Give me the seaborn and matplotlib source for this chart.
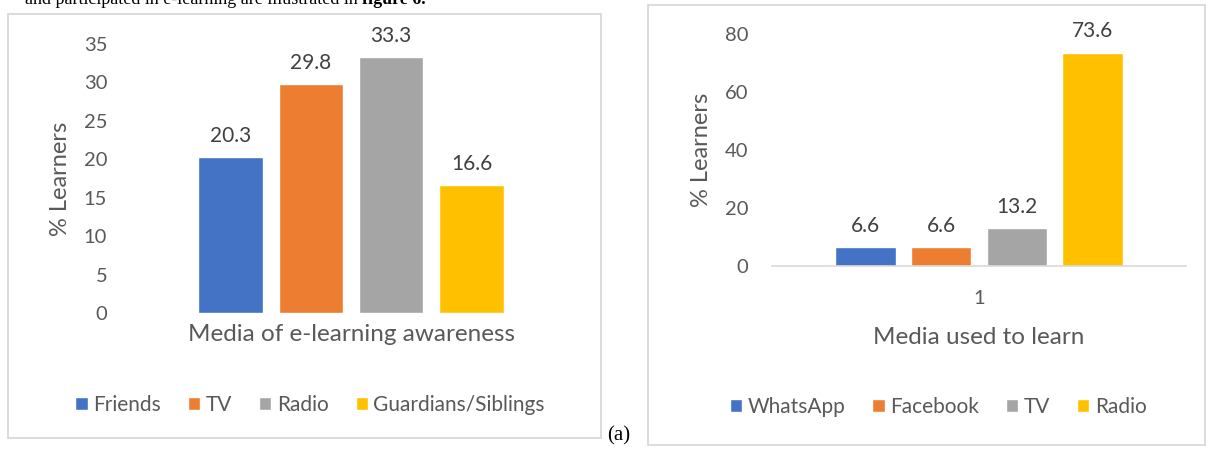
import pandas as pd
import matplotlib
matplotlib.use('Agg')
import matplotlib.pyplot as plt
from matplotlib.patches import Rectangle
import seaborn as sns

# chart data
aware_media = ['Friends', 'TV', 'Radio', 'Guardians/Siblings']
aware_pct = [20.3, 29.8, 33.3, 16.6]
learn_media = ['WhatsApp', 'Facebook', 'TV', 'Radio']
learn_pct = [6.6, 6.6, 13.2, 73.6]
colors = ['#4472C4', '#ED7D31', '#A5A5A5', '#FFC000']
left_ticks = [0, 5, 10, 15, 20, 25, 30, 35]
right_ticks = [0, 20, 40, 60, 80]

sns.set_theme(style='white')
plt.rcParams['font.family'] = ['Lato', 'DejaVu Sans']
txt = '#595959'

W, H = 1210, 449
fig = plt.figure(figsize=(W / 100, H / 100), dpi=100)


def px_axes(x0, y0, x1, y1):
    # axes box from pixel corners (top-left origin)
    return fig.add_axes([x0 / W, 1 - y1 / H, (x1 - x0) / W, (y1 - y0) / H])


def frame(x0, y0, x1, y1):
    fig.patches.append(Rectangle((x0 / W, 1 - y1 / H), (x1 - x0) / W, (y1 - y0) / H,
                                 transform=fig.transFigure, fill=False,
                                 edgecolor='#d9d9d9', linewidth=1.3))


legend_kw = dict(ncol=4, frameon=False, title=None, fontsize=15, handlelength=0.6,
                 handleheight=0.6, handletextpad=0.25, columnspacing=1.3,
                 labelcolor=txt, bbox_transform=fig.transFigure)

# left chart
frame(8, 14, 601, 438)
ax1 = px_axes(110, 44, 592, 313)
df1 = pd.DataFrame({'grp': [''] * 4, 'media': aware_media, 'pct': aware_pct})
sns.barplot(data=df1, x='grp', y='pct', hue='media', palette=colors,
            width=0.8, gap=0.2, saturation=1, ax=ax1)
ax1.set_xlim(-0.6, 0.6)
ax1.set_ylim(0, 35)
ax1.set_yticks(left_ticks)
ax1.set_xticks([])
ax1.tick_params(axis='y', length=0, pad=2, labelsize=14.5, labelcolor=txt)
ax1.set_ylabel('% Learners', fontsize=17, color=txt, labelpad=9)
ax1.set_xlabel('Media of e-learning awareness', fontsize=17.5, color=txt, labelpad=8)
for c in ax1.containers:
    ax1.bar_label(c, fmt='%.1f', padding=8, fontsize=15, color='#404040')
sns.despine(ax=ax1, left=True, bottom=True)
sns.move_legend(ax1, 'center', bbox_to_anchor=(310 / W, 1 - 405 / H), **legend_kw)

# right chart
frame(648, 5, 1205, 445)
ax2 = px_axes(772, 34, 1186, 266)
df2 = pd.DataFrame({'grp': ['1'] * 4, 'media': learn_media, 'pct': learn_pct})
sns.barplot(data=df2, x='grp', y='pct', hue='media', palette=colors,
            width=0.8, gap=0.2, saturation=1, ax=ax2)
ax2.set_xlim(-0.548, 0.548)
ax2.set_ylim(0, 80)
ax2.set_yticks(right_ticks)
ax2.tick_params(axis='y', length=0, pad=17, labelsize=14.5, labelcolor=txt)
ax2.tick_params(axis='x', length=0, pad=17, labelsize=14.5, labelcolor=txt)
ax2.set_ylabel('% Learners', fontsize=17, color=txt, labelpad=9)
ax2.set_xlabel('Media used to learn', fontsize=17.5, color=txt, labelpad=15)
for c in ax2.containers:
    ax2.bar_label(c, fmt='%.1f', padding=8, fontsize=15, color='#404040')
sns.despine(ax=ax2, left=True)
ax2.spines['bottom'].set_color('#d9d9d9')
ax2.spines['bottom'].set_linewidth(1.2)
sns.move_legend(ax2, 'center', bbox_to_anchor=(938 / W, 1 - 407 / H), **legend_kw)

# surrounding document text (cut by the top edge, as in the source page)
lead = fig.text(25 / W, 1 - 4 / H, 'and participated in e-learning are illustrated in ',
                fontsize=13, family='Liberation Serif', va='baseline', color='black')
r = fig.canvas.get_renderer()
bb = lead.get_window_extent(renderer=r)
fig.text(bb.x1 / W, 1 - 4 / H, 'figure 6.', fontsize=13, family='Liberation Serif',
         weight='bold', va='baseline', color='black')
fig.text(607 / W, 1 - 436 / H, '(a)', fontsize=15, family='Liberation Serif',
         va='center', color='black')

fig.savefig('out.png', dpi=100, facecolor='white')
